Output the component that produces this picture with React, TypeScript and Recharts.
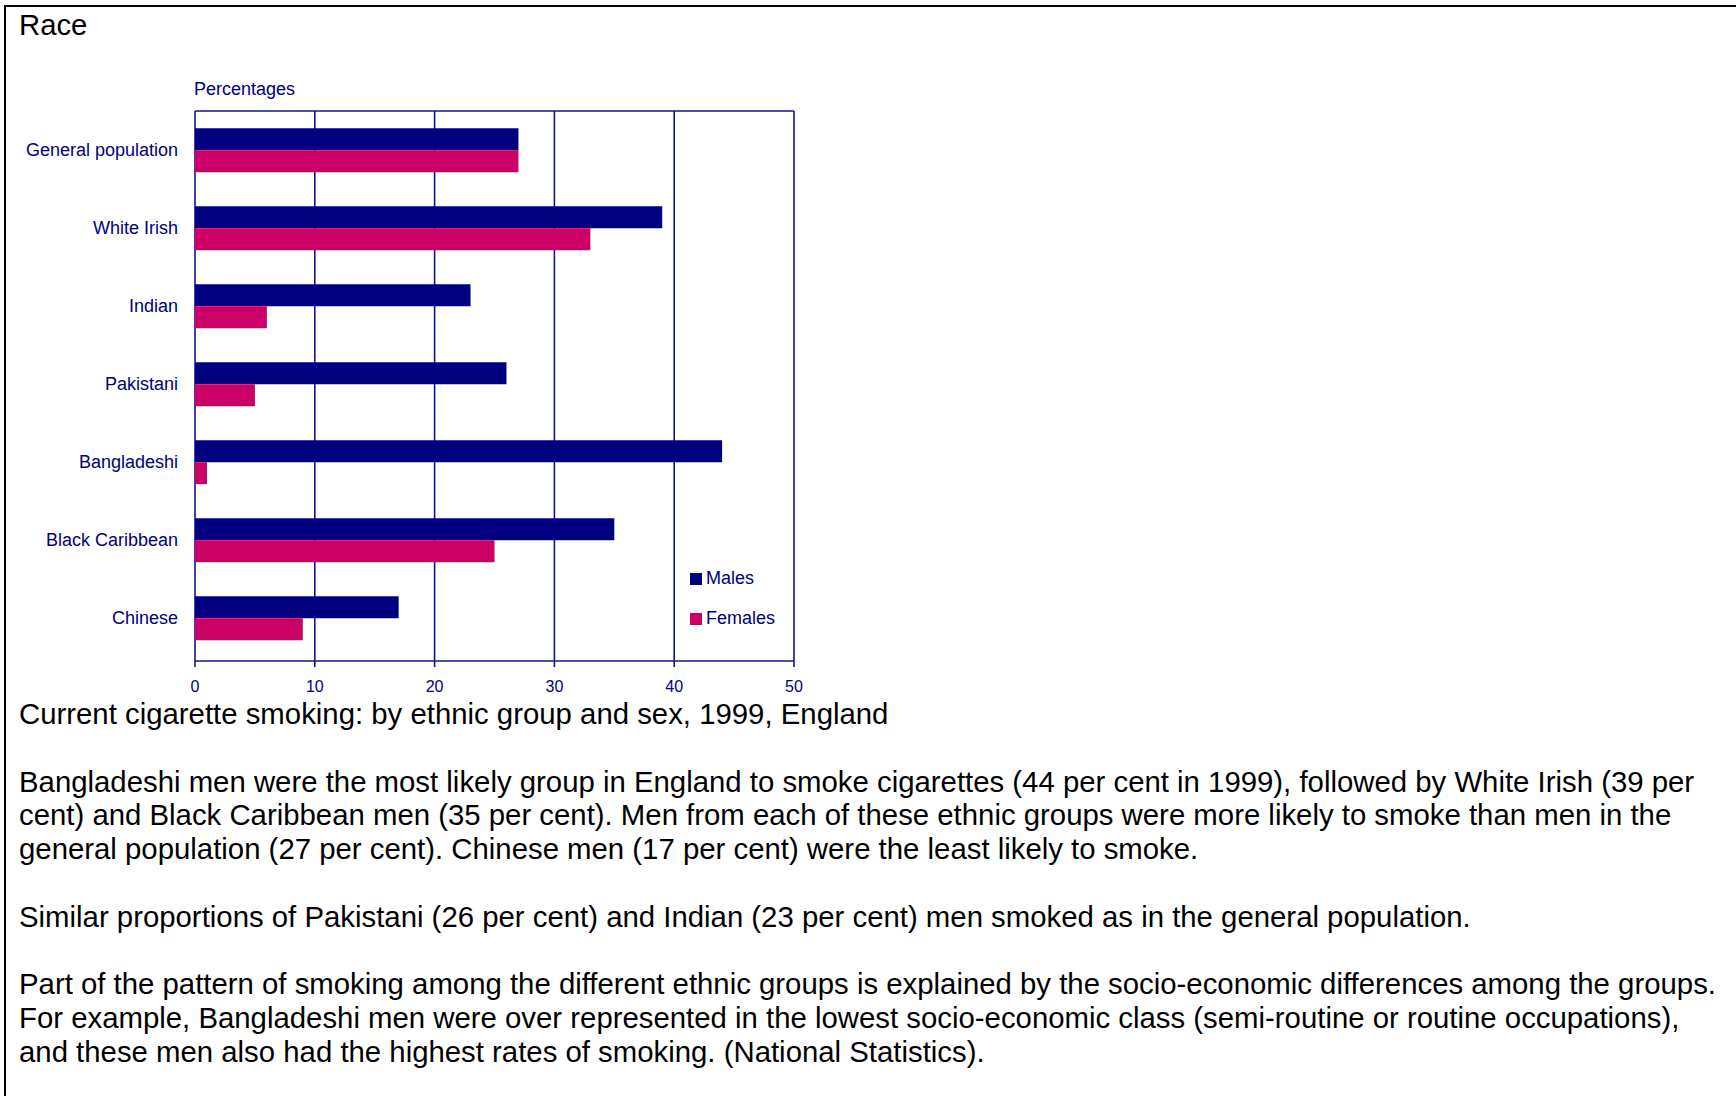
import React from "react";
import {
  BarChart,
  Bar,
  XAxis,
  YAxis,
  CartesianGrid,
  Legend,
} from "recharts";

const groups = [
  "General population",
  "White Irish",
  "Indian",
  "Pakistani",
  "Bangladeshi",
  "Black Caribbean",
  "Chinese",
];
const males = [27, 39, 23, 26, 44, 35, 17];
const females = [27, 33, 6, 5, 1, 25, 9];
const xTicks = [0, 10, 20, 30, 40, 50];
const seriesNames = ["Males", "Females"];

const navy = "#000080";
const pink = "#CC0066";
const gridColor = "#14148E";
const font = "'Liberation Sans', Arial, sans-serif";

const data = groups.map((g, i) => ({
  group: g,
  Males: males[i],
  Females: females[i],
}));

const legendText = (value: string) => (
  <span style={{ color: navy }}>{value}</span>
);

const App = () => {
  return (
    <div
      style={{
        position: "absolute",
        left: 0,
        top: 0,
        width: 1736,
        height: 1096,
        overflow: "hidden",
        background: "#fff",
        fontFamily: font,
      }}
    >
      <div
        style={{
          position: "absolute",
          left: 4,
          top: 5,
          width: 1800,
          height: 1200,
          borderLeft: "2px solid #000",
          borderTop: "2px solid #000",
        }}
      />
      <div
        style={{
          position: "absolute",
          left: 19,
          top: 8,
          fontSize: 29.3,
          lineHeight: "33.8px",
          color: "#000",
        }}
      >
        Race
      </div>
      <div
        style={{
          position: "absolute",
          left: 194,
          top: 79,
          fontSize: 18,
          lineHeight: "20px",
          color: navy,
        }}
      >
        Percentages
      </div>
      <div style={{ position: "absolute", left: 0, top: 0 }}>
        <BarChart
          width={820}
          height={700}
          data={data}
          layout="vertical"
          margin={{ top: 110, right: 26, bottom: 9, left: 0 }}
          barCategoryGap="22%"
          barGap={0}
        >
          <CartesianGrid
            horizontal={false}
            stroke={gridColor}
            strokeWidth={1.6}
            verticalValues={xTicks}
          />
          <XAxis
            xAxisId="top"
            orientation="top"
            type="number"
            domain={[0, 50]}
            ticks={xTicks}
            height={1}
            tick={false}
            tickLine={false}
            axisLine={{ stroke: gridColor, strokeWidth: 1.6 }}
          />
          <XAxis
            type="number"
            domain={[0, 50]}
            ticks={xTicks}
            height={30}
            tickSize={6}
            tickMargin={14}
            axisLine={{ stroke: gridColor, strokeWidth: 1.6 }}
            tickLine={{ stroke: gridColor, strokeWidth: 1.6 }}
            tick={{ fill: navy, fontSize: 16, fontFamily: font }}
          />
          <YAxis
            type="category"
            dataKey="group"
            width={195}
            padding={{ top: 0, bottom: 4 }}
            axisLine={false}
            tickLine={false}
            tickSize={0}
            tickMargin={17}
            tick={{ fill: navy, fontSize: 18, fontFamily: font }}
          />
          <Legend
            layout="vertical"
            align="center"
            verticalAlign="middle"
            iconType="square"
            iconSize={12}
            itemSorter={(item: any) => seriesNames.indexOf(item.value)}
            formatter={legendText}
            wrapperStyle={{
              left: 690,
              top: 558,
              width: 120,
              lineHeight: "40px",
              fontSize: 18,
              fontFamily: font,
            }}
          />
          <Bar dataKey="Males" fill={navy} isAnimationActive={false} />
          <Bar dataKey="Females" fill={pink} isAnimationActive={false} />
        </BarChart>
      </div>
      <div
        style={{
          position: "absolute",
          left: 19,
          top: 697,
          fontSize: 29.35,
          lineHeight: "33.8px",
          color: "#000",
          whiteSpace: "nowrap",
        }}
      >
        Current cigarette smoking: by ethnic group and sex, 1999, England
        <br />
        <br />
        Bangladeshi men were the most likely group in England to smoke
        cigarettes (44 per cent in 1999), followed by White Irish (39 per
        <br />
        cent) and Black Caribbean men (35 per cent). Men from each of these
        ethnic groups were more likely to smoke than men in the
        <br />
        general population (27 per cent). Chinese men (17 per cent) were the
        least likely to smoke.
        <br />
        <br />
        Similar proportions of Pakistani (26 per cent) and Indian (23 per cent)
        men smoked as in the general population.
        <br />
        <br />
        Part of the pattern of smoking among the different ethnic groups is
        explained by the socio-economic differences among the groups.
        <br />
        For example, Bangladeshi men were over represented in the lowest
        socio-economic class (semi-routine or routine occupations),
        <br />
        and these men also had the highest rates of smoking. (National
        Statistics).
      </div>
    </div>
  );
};

export default App;
